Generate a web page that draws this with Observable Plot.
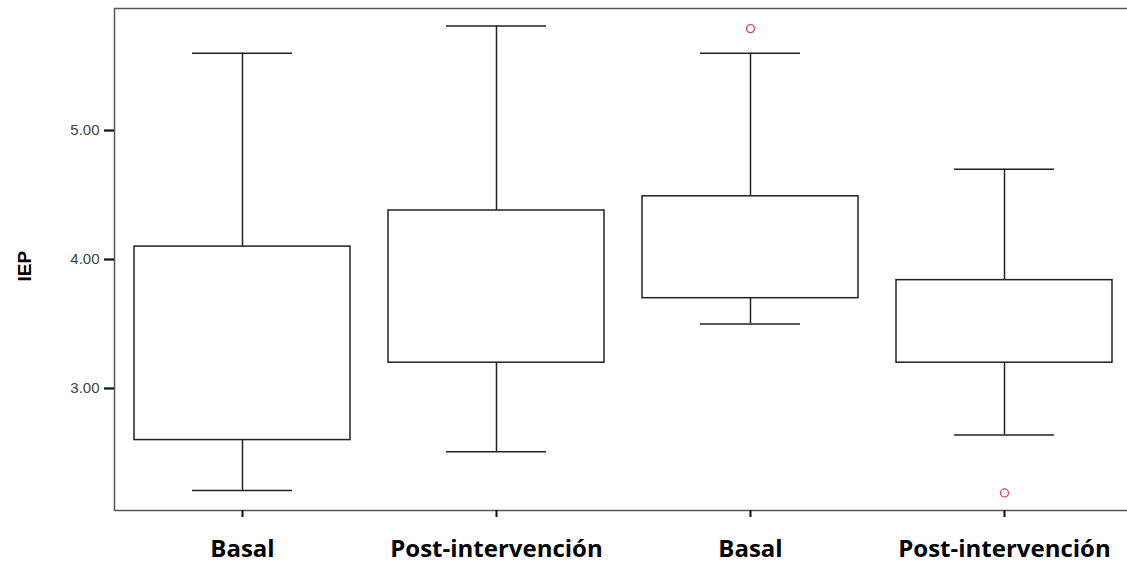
<!DOCTYPE html>
<html>
<head>
<meta charset="utf-8">
<script src="https://cdn.jsdelivr.net/npm/d3@7"></script>
<script src="https://cdn.jsdelivr.net/npm/@observablehq/plot@0.6"></script>
<style>
  html, body { margin: 0; padding: 0; background: #fff; overflow: hidden; }
  #chart { width: 1127px; height: 566px; overflow: hidden; }
</style>
</head>
<body>
<div id="chart"></div>
<script>
const groups = ["g1", "g2", "g3", "g4"];
const labels = ["Basal", "Post-intervención", "Basal", "Post-intervención"];
const whiskerLow = [2.21, 2.51, 3.50, 2.64];
const q1 = [2.60, 3.20, 3.70, 3.20];
const q3 = [4.10, 4.38, 4.49, 3.84];
const whiskerHigh = [5.60, 5.81, 5.60, 4.70];
const outlierGroup = ["g3", "g4"];
const outlierValue = [5.79, 2.19];
const yTicks = [3, 4, 5];
const yLabel = "IEP";

const boxes = groups.map((g, i) => ({g, lo: whiskerLow[i], q1: q1[i], q3: q3[i], hi: whiskerHigh[i]}));
const outliers = outlierGroup.map((g, i) => ({g, v: outlierValue[i]}));
const labelOf = Object.fromEntries(groups.map((g, i) => [g, labels[i]]));

const yDomain = [2.054, 5.946];

const chart = Plot.plot({
  width: 1127,
  height: 566,
  marginLeft: 114,
  marginRight: -4,
  marginTop: 8,
  marginBottom: 56,
  style: {background: "#fff", fontFamily: "Liberation Sans, Arial, sans-serif"},
  x: {domain: groups, padding: 0, axis: null},
  y: {domain: yDomain, axis: null},
  marks: [
    Plot.frame({stroke: "#555", strokeWidth: 1.5}),
    Plot.ruleX(boxes, {x: "g", y1: "q3", y2: "hi", stroke: "#222", strokeWidth: 1.5}),
    Plot.ruleX(boxes, {x: "g", y1: "lo", y2: "q1", stroke: "#222", strokeWidth: 1.5}),
    Plot.tickY(boxes, {x: "g", y: "hi", stroke: "#222", strokeWidth: 1.5, insetLeft: 77, insetRight: 77}),
    Plot.tickY(boxes, {x: "g", y: "lo", stroke: "#222", strokeWidth: 1.5, insetLeft: 77, insetRight: 77}),
    Plot.barY(boxes, {x: "g", y1: "q1", y2: "q3", fill: "#fff", stroke: "#222", strokeWidth: 1.5, insetLeft: 19, insetRight: 19}),
    Plot.dot(outliers, {x: "g", y: "v", r: 4, stroke: "#e0406a", strokeWidth: 1.3, fill: "none"}),
    Plot.axisY({ticks: yTicks, tickFormat: d3.format(".2f"), tickSize: 10, tickPadding: 5, strokeWidth: 2.2, stroke: "#111", fill: "#444", fontSize: 15, label: null}),
    Plot.axisX({tickSize: 7, tickPadding: 22, strokeWidth: 2, stroke: "#111", tickFormat: d => labelOf[d], fontSize: 24, fontWeight: "bold", fontFamily: "Open Sans", fill: "#000", label: null}),
    Plot.text([yLabel], {frameAnchor: "left", dx: -90, dy: 22, rotate: -90, fontWeight: "bold", fontSize: 19, fill: "#000", fontFamily: "Liberation Sans, Arial, sans-serif"})
  ]
});
document.getElementById("chart").appendChild(chart);
</script>
</body>
</html>
